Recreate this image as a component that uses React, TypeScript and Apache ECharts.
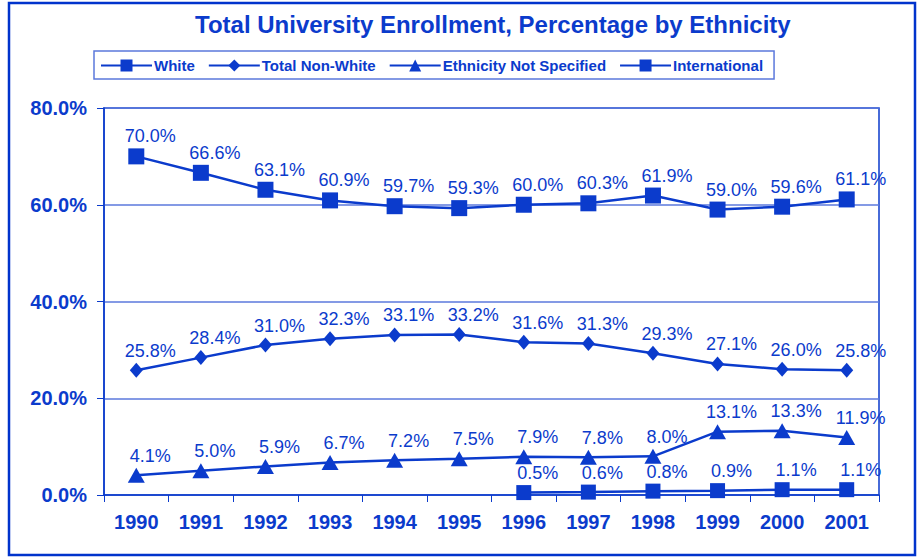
import React, { useEffect, useRef } from "react";
import * as echarts from "echarts";

const years = ["1990", "1991", "1992", "1993", "1994", "1995", "1996", "1997", "1998", "1999", "2000", "2001"];
const white = [70.0, 66.6, 63.1, 60.9, 59.7, 59.3, 60.0, 60.3, 61.9, 59.0, 59.6, 61.1];
const nonWhite = [25.8, 28.4, 31.0, 32.3, 33.1, 33.2, 31.6, 31.3, 29.3, 27.1, 26.0, 25.8];
const notSpecified = [4.1, 5.0, 5.9, 6.7, 7.2, 7.5, 7.9, 7.8, 8.0, 13.1, 13.3, 11.9];
const international = [null, null, null, null, null, null, 0.5, 0.6, 0.8, 0.9, 1.1, 1.1];

const BLUE = "#0b3bcc";
const LIGHT = "#5b78dc";
const FONT = "Liberation Sans, Arial, sans-serif";

export default function App() {
  const ref = useRef<HTMLDivElement>(null);
  useEffect(() => {
    if (!ref.current) return;
    const chart = echarts.init(ref.current, null, { renderer: "svg" });
    const label = {
      show: true,
      position: "top" as const,
      distance: 3,
      offset: [14, 0],
      color: BLUE,
      fontSize: 18,
      fontFamily: FONT,
      formatter: (p: any) => (p.value == null ? "" : Number(p.value).toFixed(1) + "%"),
    };
    const mk = (name: string, data: any[], symbol: string, size: any) => ({
      name,
      type: "line",
      data,
      symbol,
      symbolSize: size,
      showSymbol: true,
      lineStyle: { color: BLUE, width: 2.5 },
      itemStyle: { color: BLUE },
      label,
      z: 3,
    });
    chart.setOption({
      animation: false,
      backgroundColor: "#ffffff",
      title: {
        text: "Total University Enrollment, Percentage by Ethnicity",
        left: 190,
        top: 7,
        textStyle: { color: BLUE, fontSize: 24, fontWeight: "bold", fontFamily: FONT },
      },
      legend: {
        top: 51,
        left: 94,
        itemWidth: 51,
        itemHeight: 15,
        itemGap: 13,
        padding: [7, 11, 6, 6],
        borderColor: LIGHT,
        borderWidth: 1.5,
        textStyle: { color: BLUE, fontSize: 15, fontWeight: "bold", fontFamily: FONT, padding: [0, 0, 0, -3] },
        data: ["White", "Total Non-White", "Ethnicity Not Specified", "International"],
      },
      grid: {
        left: 104,
        right: 40,
        top: 108,
        bottom: 62,
        show: true,
        borderColor: BLUE,
        borderWidth: 1.5,
      },
      xAxis: {
        type: "category",
        data: years,
        boundaryGap: true,
        axisLine: { lineStyle: { color: BLUE, width: 1.5 } },
        axisTick: { show: true, length: 7, lineStyle: { color: BLUE } },
        axisLabel: { color: BLUE, fontSize: 20, fontWeight: "bold", fontFamily: FONT, margin: 17 },
      },
      yAxis: {
        type: "value",
        min: 0,
        max: 80,
        interval: 20,
        axisLine: { show: true, lineStyle: { color: BLUE, width: 1.5 } },
        axisTick: { show: true, length: 7, lineStyle: { color: BLUE } },
        splitLine: { show: true, lineStyle: { color: LIGHT, width: 1.5 } },
        axisLabel: {
          color: BLUE,
          fontSize: 20,
          fontWeight: "bold",
          fontFamily: FONT,
          margin: 17,
          formatter: (v: number) => v.toFixed(1) + "%",
        },
      },
      graphic: [
        {
          type: "rect",
          shape: { x: 9, y: 3, width: 906, height: 552 },
          style: { fill: "none", stroke: "#0033cc", lineWidth: 2.5 },
          silent: true,
        },
      ],
      series: [
        mk("White", white, "rect", 16),
        mk("Total Non-White", nonWhite, "diamond", [13, 15]),
        mk("Ethnicity Not Specified", notSpecified, "triangle", [17, 15]),
        mk("International", international, "rect", 15),
      ],
    });
    return () => chart.dispose();
  }, []);
  return <div ref={ref} style={{ position: "fixed", left: 0, top: 0, width: 919, height: 557 }} />;
}
